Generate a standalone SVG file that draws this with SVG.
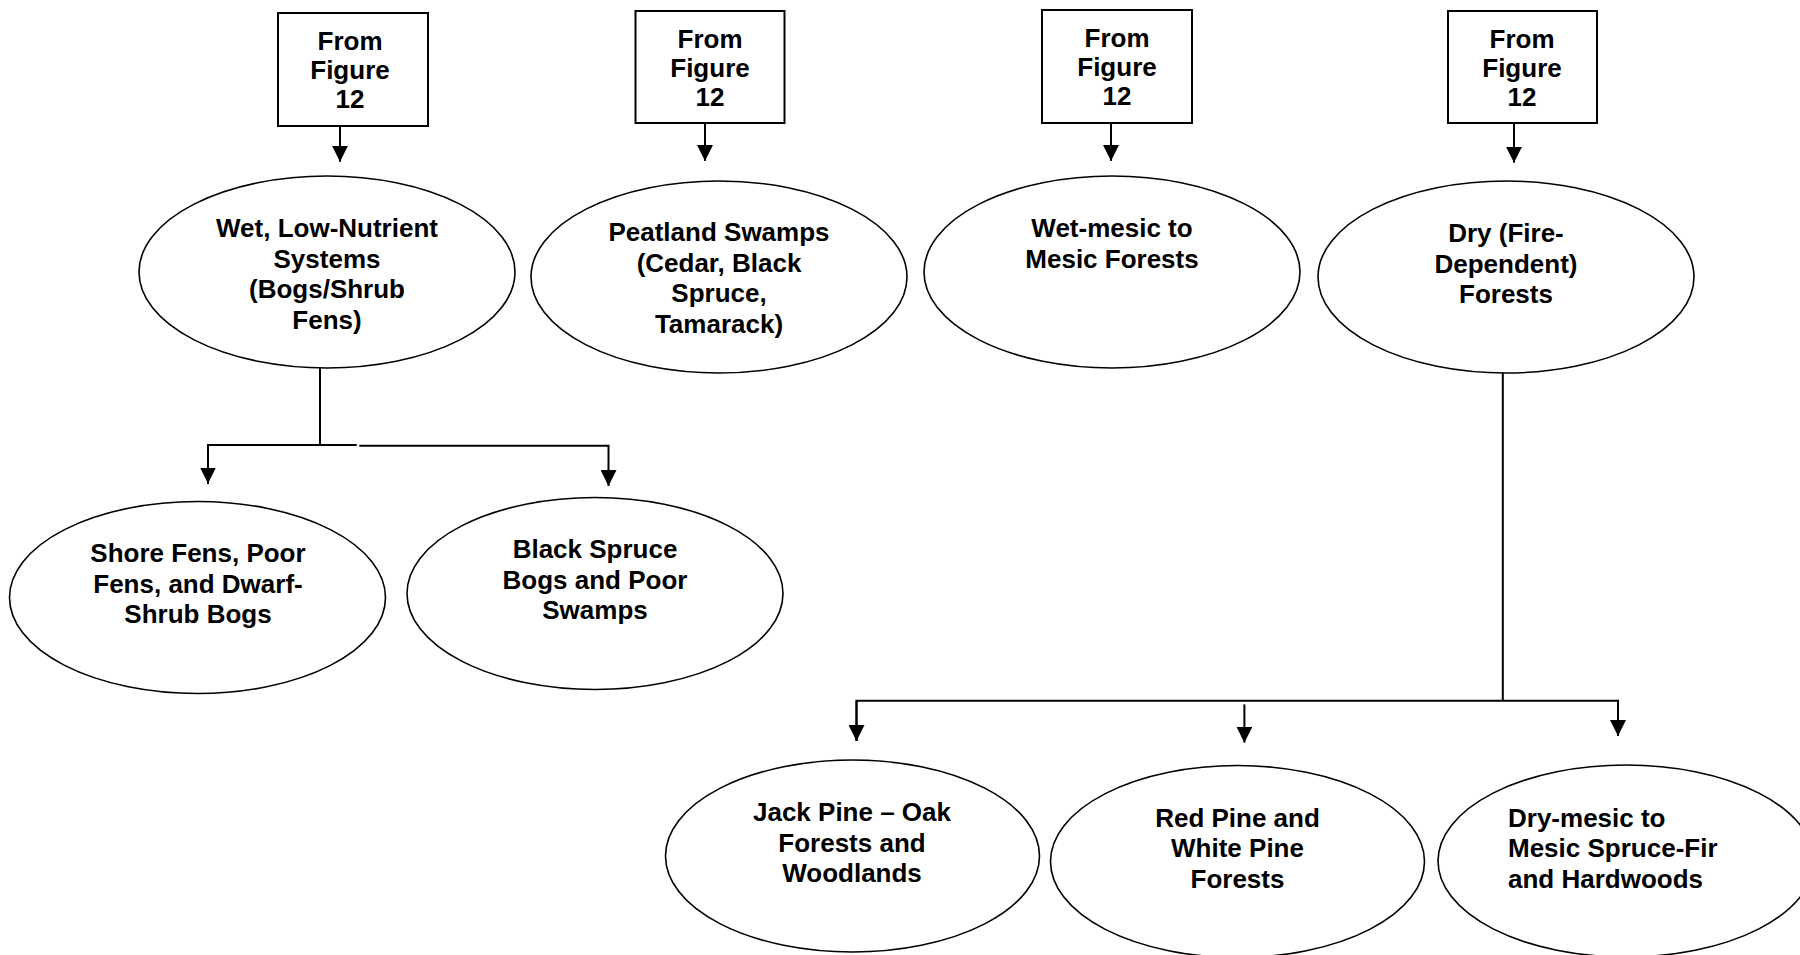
<svg xmlns="http://www.w3.org/2000/svg" width="1800" height="955" viewBox="0 0 1800 955">
<style>
  .box { fill: #fff; stroke: #000; stroke-width: 2; }
  .ell { fill: #fff; stroke: #000; stroke-width: 1.6; }
  .t { font-family: "Liberation Sans", Arial, sans-serif; font-weight: bold; font-size: 26px; fill: #000; text-anchor: middle; }
  .tl { text-anchor: start; }
  .ln { fill: none; stroke: #000; stroke-width: 2; }
</style>
<defs>
  <marker id="ah" markerUnits="userSpaceOnUse" markerWidth="16" markerHeight="16" refX="16" refY="8" orient="auto">
    <path d="M0,0 L16,8 L0,16 z" fill="#000"/>
  </marker>
</defs>
<rect width="1800" height="955" fill="#fff"/>

<g id="box1">
  <rect class="box" x="278" y="13" width="150" height="113"/>
  <text class="t" x="350" y="50">From</text>
  <text class="t" x="350" y="79">Figure</text>
  <text class="t" x="350" y="108">12</text>
</g>
<g id="box2">
  <rect class="box" x="635.5" y="11" width="149" height="112"/>
  <text class="t" x="710" y="47.5">From</text>
  <text class="t" x="710" y="76.5">Figure</text>
  <text class="t" x="710" y="105.5">12</text>
</g>
<g id="box3">
  <rect class="box" x="1042" y="10" width="150" height="113"/>
  <text class="t" x="1117" y="47">From</text>
  <text class="t" x="1117" y="76">Figure</text>
  <text class="t" x="1117" y="105">12</text>
</g>
<g id="box4">
  <rect class="box" x="1448" y="11" width="149" height="112"/>
  <text class="t" x="1522" y="47.5">From</text>
  <text class="t" x="1522" y="76.5">Figure</text>
  <text class="t" x="1522" y="105.5">12</text>
</g>

<g id="wet-low-nutrient">
  <ellipse class="ell" cx="327" cy="272" rx="188" ry="96"/>
  <text class="t" x="327" y="237">Wet, Low-Nutrient</text>
  <text class="t" x="327" y="267.5">Systems</text>
  <text class="t" x="327" y="298">(Bogs/Shrub</text>
  <text class="t" x="327" y="328.5">Fens)</text>
</g>
<g id="peatland-swamps">
  <ellipse class="ell" cx="719" cy="277" rx="188" ry="96"/>
  <text class="t" x="719" y="241">Peatland Swamps</text>
  <text class="t" x="719" y="271.5">(Cedar, Black</text>
  <text class="t" x="719" y="302">Spruce,</text>
  <text class="t" x="719" y="332.5">Tamarack)</text>
</g>
<g id="wet-mesic">
  <ellipse class="ell" cx="1112" cy="272" rx="188" ry="96"/>
  <text class="t" x="1112" y="237">Wet-mesic to</text>
  <text class="t" x="1112" y="267.5">Mesic Forests</text>
</g>
<g id="dry-fire">
  <ellipse class="ell" cx="1506" cy="277" rx="188" ry="96"/>
  <text class="t" x="1506" y="242">Dry (Fire-</text>
  <text class="t" x="1506" y="272.5">Dependent)</text>
  <text class="t" x="1506" y="303">Forests</text>
</g>
<g id="shore-fens">
  <ellipse class="ell" cx="197.5" cy="597.5" rx="188" ry="96"/>
  <text class="t" x="198" y="562">Shore Fens, Poor</text>
  <text class="t" x="198" y="592.5">Fens, and Dwarf-</text>
  <text class="t" x="198" y="623">Shrub Bogs</text>
</g>
<g id="black-spruce">
  <ellipse class="ell" cx="595" cy="593.5" rx="188" ry="96"/>
  <text class="t" x="595" y="558">Black Spruce</text>
  <text class="t" x="595" y="588.5">Bogs and Poor</text>
  <text class="t" x="595" y="619">Swamps</text>
</g>
<g id="jack-pine">
  <ellipse class="ell" cx="852.5" cy="856" rx="187" ry="96"/>
  <text class="t" x="852" y="821">Jack Pine – Oak</text>
  <text class="t" x="852" y="851.5">Forests and</text>
  <text class="t" x="852" y="882">Woodlands</text>
</g>
<g id="red-pine">
  <ellipse class="ell" cx="1237.5" cy="861.5" rx="187" ry="96"/>
  <text class="t" x="1237.5" y="826.5">Red Pine and</text>
  <text class="t" x="1237.5" y="857">White Pine</text>
  <text class="t" x="1237.5" y="887.5">Forests</text>
</g>
<g id="dry-mesic">
  <ellipse class="ell" cx="1626" cy="861" rx="188" ry="96"/>
  <text class="t tl" x="1508" y="826.5">Dry-mesic to</text>
  <text class="t tl" x="1508" y="857">Mesic Spruce-Fir</text>
  <text class="t tl" x="1508" y="887.5">and Hardwoods</text>
</g>

<g id="connectors">
  <line class="ln" x1="340" y1="126" x2="340" y2="161.7" marker-end="url(#ah)"/>
  <line class="ln" x1="705" y1="123" x2="705" y2="161" marker-end="url(#ah)"/>
  <line class="ln" x1="1111" y1="123" x2="1111" y2="161" marker-end="url(#ah)"/>
  <line class="ln" x1="1514" y1="123" x2="1514" y2="162.7" marker-end="url(#ah)"/>

  <line class="ln" x1="320" y1="368" x2="320" y2="445"/>
  <polyline class="ln" points="208,484 208,445 356.7,445"/>
  <polyline class="ln" points="359.3,445.7 608.5,445.7 608.5,486" marker-end="url(#ah)"/>
  <line class="ln" x1="208" y1="445" x2="208" y2="483.5" marker-end="url(#ah)"/>

  <line class="ln" x1="1502.8" y1="373" x2="1502.8" y2="700.7"/>
  <polyline class="ln" points="856.5,741 856.5,700.7 1618,700.7 1618,736"/>
  <line class="ln" x1="856.5" y1="700.7" x2="856.5" y2="741" marker-end="url(#ah)"/>
  <line class="ln" x1="1618" y1="700.7" x2="1618" y2="736" marker-end="url(#ah)"/>
  <line class="ln" x1="1244.4" y1="704.4" x2="1244.4" y2="742.7" marker-end="url(#ah)"/>
</g>
</svg>
